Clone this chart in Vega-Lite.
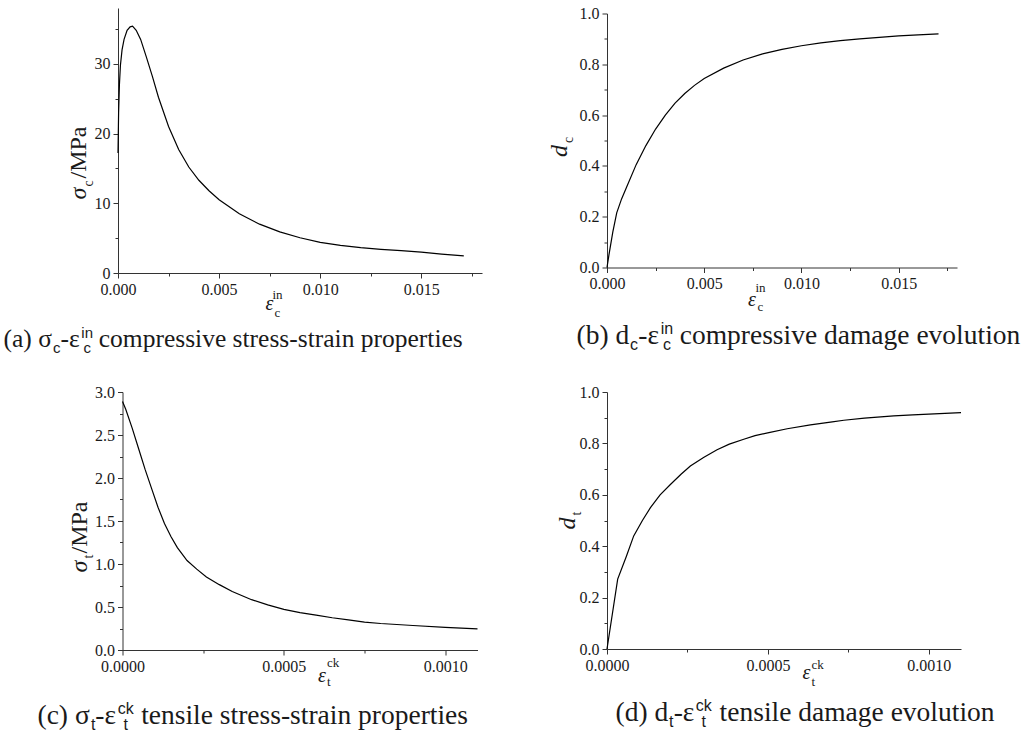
{
  "$schema": "https://vega.github.io/schema/vega-lite/v6.json",
  "background": "white",
  "padding": {"left": 3, "top": 5, "right": 4, "bottom": 4},
  "config": {
    "view": {"stroke": null},
    "font": "Liberation Serif",
    "axis": {"labelFont": "Liberation Serif", "labelFontSize": 16, "labelColor": "#1a1a1a", "titleFont": "Liberation Serif", "titleColor": "#1a1a1a", "titleFontWeight": "normal", "domainColor": "#333", "tickColor": "#333", "grid": false, "labelFlush": false, "labelOverlap": false, "labelPadding": 3, "domainWidth": 1, "tickWidth": 1}
  },
  "datasets": {
    "a": [
      {"x": 0, "y": 17.2}, {"x": 0.00003, "y": 23}, {"x": 0.00007, "y": 27}, {"x": 0.00012, "y": 29.8}, {"x": 0.0002, "y": 32}, {"x": 0.0003, "y": 33.5}, {"x": 0.00045, "y": 34.8}, {"x": 0.0006, "y": 35.3}, {"x": 0.00072, "y": 35.4}, {"x": 0.0009, "y": 34.8}, {"x": 0.00112, "y": 33.5}, {"x": 0.0014, "y": 31}, {"x": 0.0017, "y": 28.2}, {"x": 0.002, "y": 25.2}, {"x": 0.0025, "y": 21}, {"x": 0.003, "y": 17.7}, {"x": 0.0035, "y": 15.2}, {"x": 0.004, "y": 13.3}, {"x": 0.0045, "y": 11.8}, {"x": 0.005, "y": 10.5}, {"x": 0.006, "y": 8.5}, {"x": 0.007, "y": 7.0}, {"x": 0.008, "y": 5.9}, {"x": 0.009, "y": 5.05}, {"x": 0.01, "y": 4.4}, {"x": 0.011, "y": 3.97}, {"x": 0.012, "y": 3.63}, {"x": 0.013, "y": 3.4}, {"x": 0.014, "y": 3.2}, {"x": 0.015, "y": 3.0}, {"x": 0.016, "y": 2.72}, {"x": 0.0171, "y": 2.45}
    ],
    "b": [
      {"x": 0, "y": 0}, {"x": 0.0001, "y": 0.05}, {"x": 0.0003, "y": 0.14}, {"x": 0.0005, "y": 0.215}, {"x": 0.00075, "y": 0.27}, {"x": 0.001, "y": 0.315}, {"x": 0.0015, "y": 0.405}, {"x": 0.002, "y": 0.48}, {"x": 0.0025, "y": 0.545}, {"x": 0.003, "y": 0.6}, {"x": 0.0035, "y": 0.647}, {"x": 0.004, "y": 0.685}, {"x": 0.0045, "y": 0.717}, {"x": 0.005, "y": 0.744}, {"x": 0.006, "y": 0.785}, {"x": 0.007, "y": 0.817}, {"x": 0.008, "y": 0.841}, {"x": 0.009, "y": 0.859}, {"x": 0.01, "y": 0.873}, {"x": 0.011, "y": 0.884}, {"x": 0.012, "y": 0.893}, {"x": 0.013, "y": 0.9}, {"x": 0.014, "y": 0.906}, {"x": 0.015, "y": 0.912}, {"x": 0.016, "y": 0.916}, {"x": 0.01705, "y": 0.92}
    ],
    "c": [
      {"x": 0, "y": 2.89}, {"x": 0.00001, "y": 2.8}, {"x": 0.00003, "y": 2.58}, {"x": 0.00005, "y": 2.34}, {"x": 0.00007, "y": 2.1}, {"x": 0.00009, "y": 1.88}, {"x": 0.00011, "y": 1.66}, {"x": 0.00013, "y": 1.47}, {"x": 0.00015, "y": 1.32}, {"x": 0.00017, "y": 1.19}, {"x": 0.0002, "y": 1.04}, {"x": 0.00023, "y": 0.94}, {"x": 0.00026, "y": 0.85}, {"x": 0.0003, "y": 0.76}, {"x": 0.00034, "y": 0.68}, {"x": 0.0004, "y": 0.585}, {"x": 0.00045, "y": 0.525}, {"x": 0.0005, "y": 0.473}, {"x": 0.00055, "y": 0.435}, {"x": 0.0006, "y": 0.405}, {"x": 0.00065, "y": 0.375}, {"x": 0.0007, "y": 0.35}, {"x": 0.00075, "y": 0.325}, {"x": 0.0008, "y": 0.308}, {"x": 0.0009, "y": 0.285}, {"x": 0.001, "y": 0.262}, {"x": 0.0011, "y": 0.245}
    ],
    "d": [
      {"x": 0, "y": 0}, {"x": 0.0000332, "y": 0.272}, {"x": 0.00006, "y": 0.36}, {"x": 0.000083, "y": 0.44}, {"x": 0.00011, "y": 0.5}, {"x": 0.000135, "y": 0.55}, {"x": 0.000165, "y": 0.6}, {"x": 0.000197, "y": 0.64}, {"x": 0.00023, "y": 0.68}, {"x": 0.000259, "y": 0.712}, {"x": 0.0003, "y": 0.745}, {"x": 0.000342, "y": 0.775}, {"x": 0.00038, "y": 0.797}, {"x": 0.000425, "y": 0.816}, {"x": 0.00046, "y": 0.83}, {"x": 0.000503, "y": 0.842}, {"x": 0.00056, "y": 0.857}, {"x": 0.000632, "y": 0.872}, {"x": 0.0007, "y": 0.884}, {"x": 0.000736, "y": 0.89}, {"x": 0.0008, "y": 0.898}, {"x": 0.000891, "y": 0.907}, {"x": 0.00095, "y": 0.911}, {"x": 0.001, "y": 0.914}, {"x": 0.00105, "y": 0.917}, {"x": 0.0011, "y": 0.92}
    ]
  },
  "columns": 2,
  "bounds": "flush",
  "center": true,
  "spacing": {"row": 119, "column": 125},
  "concat": [
    {
      "width": 364, "height": 265,
      "data": {"name": "a"},
      "layer": [
        {"mark": {"type": "line", "color": "#000", "strokeWidth": 1.2},
         "encoding": {
           "x": {"field": "x", "type": "quantitative", "scale": {"domain": [0, 0.018], "nice": false, "zero": false},
                 "axis": {"orient": "bottom", "values": [0, 0.005, 0.01, 0.015], "format": ".3f", "tickSize": 5, "title": "ε", "titleFontStyle": "italic", "titleFontSize": 20, "titleX": 151, "titleY": 36, "titleAlign": "center", "titleBaseline": "alphabetic", "titleAngle": 0}},
           "y": {"field": "y", "type": "quantitative", "scale": {"domain": [0, 38], "nice": false, "zero": false},
                 "axis": {"orient": "left", "values": [0, 10, 20, 30], "format": "d", "tickSize": 5, "title": "σ", "titleFontStyle": "italic", "titleFontSize": 24, "titleX": -32.5, "titleY": 185, "titleAlign": "center", "titleBaseline": "alphabetic", "titleAngle": -90}}
         }},
        {"mark": {"type": "line", "opacity": 0},
         "encoding": {
           "x": {"field": "x", "type": "quantitative", "scale": {"domain": [0, 0.018], "nice": false, "zero": false},
                 "axis": {"orient": "bottom", "values": [0.0025, 0.0075, 0.0125, 0.0175], "labels": false, "domain": false, "tickSize": 3, "title": ["in", "c"], "titleFontSize": 13, "titleLineHeight": 18, "titleX": 159, "titleY": 25, "titleAlign": "center", "titleBaseline": "alphabetic", "titleAngle": 0}},
           "y": {"field": "y", "type": "quantitative", "scale": {"domain": [0, 38], "nice": false, "zero": false},
                 "axis": {"orient": "left", "values": [5, 15, 25, 35], "labels": false, "domain": false, "tickSize": 3, "title": "/MPa", "titleFontSize": 24, "titleX": -32.5, "titleY": 144, "titleAlign": "center", "titleBaseline": "alphabetic", "titleAngle": -90}}
         }},
        {"mark": {"type": "line", "opacity": 0},
         "encoding": {
           "x": {"field": "x", "type": "quantitative", "scale": {"domain": [0, 0.018], "nice": false, "zero": false},
                 "axis": {"orient": "bottom", "ticks": false, "labels": false, "domain": false, "title": "(a) σ\u2006\u2006-ε\u2002 compressive stress-strain properties", "titleFontSize": 25.5, "titleX": -115, "titleY": 73, "titleAlign": "left", "titleBaseline": "alphabetic", "titleAngle": 0}},
           "y": {"field": "y", "type": "quantitative", "scale": {"domain": [0, 38], "nice": false, "zero": false},
                 "axis": {"orient": "left", "ticks": false, "labels": false, "domain": false, "title": "c", "titleFontSize": 14, "titleX": -25.5, "titleY": 175, "titleAlign": "center", "titleBaseline": "alphabetic", "titleAngle": -90}}
         }},
        {"mark": {"type": "line", "opacity": 0},
         "encoding": {
           "x": {"field": "x", "type": "quantitative", "scale": {"domain": [0, 0.018], "nice": false, "zero": false},
                 "axis": {"orient": "bottom", "ticks": false, "labels": false, "domain": false, "title": "c", "titleFont": "Liberation Sans", "titleFontSize": 15, "titleX": -65.5, "titleY": 79, "titleAlign": "left", "titleBaseline": "alphabetic", "titleAngle": 0}},
           "y": {"field": "y", "type": "quantitative", "scale": {"domain": [0, 38], "nice": false, "zero": false}, "axis": null}
         }},
        {"mark": {"type": "line", "opacity": 0},
         "encoding": {
           "x": {"field": "x", "type": "quantitative", "scale": {"domain": [0, 0.018], "nice": false, "zero": false},
                 "axis": {"orient": "bottom", "ticks": false, "labels": false, "domain": false, "title": ["in", "c"], "titleFont": "Liberation Sans", "titleFontSize": 15, "titleLineHeight": 15, "titleX": -31.3, "titleY": 64, "titleAlign": "center", "titleBaseline": "alphabetic", "titleAngle": 0}},
           "y": {"field": "y", "type": "quantitative", "scale": {"domain": [0, 38], "nice": false, "zero": false}, "axis": null}
         }}
      ],
      "resolve": {"scale": {"x": "independent", "y": "independent"}, "axis": {"x": "independent", "y": "independent"}}
    },
    {
      "width": 350, "height": 254,
      "data": {"name": "b"},
      "layer": [
        {"mark": {"type": "line", "color": "#000", "strokeWidth": 1.2},
         "encoding": {
           "x": {"field": "x", "type": "quantitative", "scale": {"domain": [0, 0.018], "nice": false, "zero": false},
                 "axis": {"orient": "bottom", "values": [0, 0.005, 0.01, 0.015], "format": ".3f", "tickSize": 5, "title": "ε", "titleFontStyle": "italic", "titleFontSize": 20, "titleX": 144.5, "titleY": 38, "titleAlign": "center", "titleBaseline": "alphabetic", "titleAngle": 0}},
           "y": {"field": "y", "type": "quantitative", "scale": {"domain": [0, 1], "nice": false, "zero": false},
                 "axis": {"orient": "left", "values": [0, 0.2, 0.4, 0.6, 0.8, 1.0], "format": ".1f", "tickSize": 5, "title": "d", "titleFontStyle": "italic", "titleFontSize": 24, "titleX": -41, "titleY": 137, "titleAlign": "center", "titleBaseline": "alphabetic", "titleAngle": -90}}
         }},
        {"mark": {"type": "line", "opacity": 0},
         "encoding": {
           "x": {"field": "x", "type": "quantitative", "scale": {"domain": [0, 0.018], "nice": false, "zero": false},
                 "axis": {"orient": "bottom", "values": [0.0025, 0.0075, 0.0125, 0.0175], "labels": false, "domain": false, "tickSize": 3, "title": ["in", "c"], "titleFontSize": 13, "titleLineHeight": 19, "titleX": 153, "titleY": 24, "titleAlign": "center", "titleBaseline": "alphabetic", "titleAngle": 0}},
           "y": {"field": "y", "type": "quantitative", "scale": {"domain": [0, 1], "nice": false, "zero": false},
                 "axis": {"orient": "left", "values": [0.1, 0.3, 0.5, 0.7, 0.9], "labels": false, "domain": false, "tickSize": 3, "title": "c", "titleFontSize": 14, "titleX": -35, "titleY": 126, "titleAlign": "center", "titleBaseline": "alphabetic", "titleAngle": -90}}
         }},
        {"mark": {"type": "line", "opacity": 0},
         "encoding": {
           "x": {"field": "x", "type": "quantitative", "scale": {"domain": [0, 0.018], "nice": false, "zero": false},
                 "axis": {"orient": "bottom", "ticks": false, "labels": false, "domain": false, "title": "(b) d\u2006\u2006-ε\u2002 compressive damage evolution", "titleFontSize": 27.5, "titleX": -31, "titleY": 76, "titleAlign": "left", "titleBaseline": "alphabetic", "titleAngle": 0}},
           "y": {"field": "y", "type": "quantitative", "scale": {"domain": [0, 1], "nice": false, "zero": false}, "axis": null}
         }},
        {"mark": {"type": "line", "opacity": 0},
         "encoding": {
           "x": {"field": "x", "type": "quantitative", "scale": {"domain": [0, 0.018], "nice": false, "zero": false},
                 "axis": {"orient": "bottom", "ticks": false, "labels": false, "domain": false, "title": "c", "titleFont": "Liberation Sans", "titleFontSize": 16, "titleX": 22.6, "titleY": 82, "titleAlign": "left", "titleBaseline": "alphabetic", "titleAngle": 0}},
           "y": {"field": "y", "type": "quantitative", "scale": {"domain": [0, 1], "nice": false, "zero": false}, "axis": null}
         }},
        {"mark": {"type": "line", "opacity": 0},
         "encoding": {
           "x": {"field": "x", "type": "quantitative", "scale": {"domain": [0, 0.018], "nice": false, "zero": false},
                 "axis": {"orient": "bottom", "ticks": false, "labels": false, "domain": false, "title": ["in", "c"], "titleFont": "Liberation Sans", "titleFontSize": 16, "titleLineHeight": 16, "titleX": 59.4, "titleY": 66, "titleAlign": "center", "titleBaseline": "alphabetic", "titleAngle": 0}},
           "y": {"field": "y", "type": "quantitative", "scale": {"domain": [0, 1], "nice": false, "zero": false}, "axis": null}
         }}
      ],
      "resolve": {"scale": {"x": "independent", "y": "independent"}, "axis": {"x": "independent", "y": "independent"}}
    },
    {
      "width": 355, "height": 258,
      "data": {"name": "c"},
      "layer": [
        {"mark": {"type": "line", "color": "#000", "strokeWidth": 1.2},
         "encoding": {
           "x": {"field": "x", "type": "quantitative", "scale": {"domain": [0, 0.0011], "nice": false, "zero": false},
                 "axis": {"orient": "bottom", "values": [0, 0.0005, 0.001], "format": ".4f", "tickSize": 5, "title": "ε", "titleFontStyle": "italic", "titleFontSize": 20, "titleX": 199, "titleY": 31, "titleAlign": "center", "titleBaseline": "alphabetic", "titleAngle": 0}},
           "y": {"field": "y", "type": "quantitative", "scale": {"domain": [0, 3], "nice": false, "zero": false},
                 "axis": {"orient": "left", "values": [0, 0.5, 1, 1.5, 2, 2.5, 3], "format": ".1f", "tickSize": 5, "title": "σ", "titleFontStyle": "italic", "titleFontSize": 24, "titleX": -36, "titleY": 174, "titleAlign": "center", "titleBaseline": "alphabetic", "titleAngle": -90}}
         }},
        {"mark": {"type": "line", "opacity": 0},
         "encoding": {
           "x": {"field": "x", "type": "quantitative", "scale": {"domain": [0, 0.0011], "nice": false, "zero": false},
                 "axis": {"orient": "bottom", "values": [0.00025, 0.00075], "labels": false, "domain": false, "tickSize": 3, "title": ["ck", "t"], "titleFontSize": 13, "titleLineHeight": 19, "titleX": 204, "titleY": 16, "titleAlign": "left", "titleBaseline": "alphabetic", "titleAngle": 0}},
           "y": {"field": "y", "type": "quantitative", "scale": {"domain": [0, 3], "nice": false, "zero": false},
                 "axis": {"orient": "left", "values": [0.25, 0.75, 1.25, 1.75, 2.25, 2.75], "labels": false, "domain": false, "tickSize": 3, "title": "/MPa", "titleFontSize": 24, "titleX": -36, "titleY": 135, "titleAlign": "center", "titleBaseline": "alphabetic", "titleAngle": -90}}
         }},
        {"mark": {"type": "line", "opacity": 0},
         "encoding": {
           "x": {"field": "x", "type": "quantitative", "scale": {"domain": [0, 0.0011], "nice": false, "zero": false},
                 "axis": {"orient": "bottom", "ticks": false, "labels": false, "domain": false, "title": "(c) σ\u2009-ε\u2002\u2006 tensile stress-strain properties", "titleFontSize": 27.5, "titleX": -85.5, "titleY": 73, "titleAlign": "left", "titleBaseline": "alphabetic", "titleAngle": 0}},
           "y": {"field": "y", "type": "quantitative", "scale": {"domain": [0, 3], "nice": false, "zero": false},
                 "axis": {"orient": "left", "ticks": false, "labels": false, "domain": false, "title": "t", "titleFontSize": 14, "titleX": -30, "titleY": 164, "titleAlign": "center", "titleBaseline": "alphabetic", "titleAngle": -90}}
         }},
        {"mark": {"type": "line", "opacity": 0},
         "encoding": {
           "x": {"field": "x", "type": "quantitative", "scale": {"domain": [0, 0.0011], "nice": false, "zero": false},
                 "axis": {"orient": "bottom", "ticks": false, "labels": false, "domain": false, "title": "t", "titleFont": "Liberation Sans", "titleFontSize": 16, "titleX": -32.1, "titleY": 79, "titleAlign": "left", "titleBaseline": "alphabetic", "titleAngle": 0}},
           "y": {"field": "y", "type": "quantitative", "scale": {"domain": [0, 3], "nice": false, "zero": false}, "axis": null}
         }},
        {"mark": {"type": "line", "opacity": 0},
         "encoding": {
           "x": {"field": "x", "type": "quantitative", "scale": {"domain": [0, 0.0011], "nice": false, "zero": false},
                 "axis": {"orient": "bottom", "ticks": false, "labels": false, "domain": false, "title": ["ck", "t"], "titleFont": "Liberation Sans", "titleFontSize": 16, "titleLineHeight": 16, "titleX": 2.8, "titleY": 63, "titleAlign": "center", "titleBaseline": "alphabetic", "titleAngle": 0}},
           "y": {"field": "y", "type": "quantitative", "scale": {"domain": [0, 3], "nice": false, "zero": false}, "axis": null}
         }}
      ],
      "resolve": {"scale": {"x": "independent", "y": "independent"}, "axis": {"x": "independent", "y": "independent"}}
    },
    {
      "width": 354, "height": 257,
      "data": {"name": "d"},
      "layer": [
        {"mark": {"type": "line", "color": "#000", "strokeWidth": 1.2},
         "encoding": {
           "x": {"field": "x", "type": "quantitative", "scale": {"domain": [0, 0.0011], "nice": false, "zero": false},
                 "axis": {"orient": "bottom", "values": [0, 0.0005, 0.001], "format": ".4f", "tickSize": 5, "title": "ε", "titleFontStyle": "italic", "titleFontSize": 20, "titleX": 199, "titleY": 29, "titleAlign": "center", "titleBaseline": "alphabetic", "titleAngle": 0}},
           "y": {"field": "y", "type": "quantitative", "scale": {"domain": [0, 1], "nice": false, "zero": false},
                 "axis": {"orient": "left", "values": [0, 0.2, 0.4, 0.6, 0.8, 1.0], "format": ".1f", "tickSize": 5, "title": "d", "titleFontStyle": "italic", "titleFontSize": 24, "titleX": -33, "titleY": 131, "titleAlign": "center", "titleBaseline": "alphabetic", "titleAngle": -90}}
         }},
        {"mark": {"type": "line", "opacity": 0},
         "encoding": {
           "x": {"field": "x", "type": "quantitative", "scale": {"domain": [0, 0.0011], "nice": false, "zero": false},
                 "axis": {"orient": "bottom", "values": [0.00025, 0.00075], "labels": false, "domain": false, "tickSize": 3, "title": ["ck", "t"], "titleFontSize": 13, "titleLineHeight": 17, "titleX": 204, "titleY": 19, "titleAlign": "left", "titleBaseline": "alphabetic", "titleAngle": 0}},
           "y": {"field": "y", "type": "quantitative", "scale": {"domain": [0, 1], "nice": false, "zero": false},
                 "axis": {"orient": "left", "values": [0.1, 0.3, 0.5, 0.7, 0.9], "labels": false, "domain": false, "tickSize": 3, "title": "t", "titleFontSize": 14, "titleX": -27, "titleY": 121, "titleAlign": "center", "titleBaseline": "alphabetic", "titleAngle": -90}}
         }},
        {"mark": {"type": "line", "opacity": 0},
         "encoding": {
           "x": {"field": "x", "type": "quantitative", "scale": {"domain": [0, 0.0011], "nice": false, "zero": false},
                 "axis": {"orient": "bottom", "ticks": false, "labels": false, "domain": false, "title": "(d) d\u2009-ε\u2002\u2006 tensile damage evolution", "titleFontSize": 27.5, "titleX": 8, "titleY": 71.5, "titleAlign": "left", "titleBaseline": "alphabetic", "titleAngle": 0}},
           "y": {"field": "y", "type": "quantitative", "scale": {"domain": [0, 1], "nice": false, "zero": false}, "axis": null}
         }},
        {"mark": {"type": "line", "opacity": 0},
         "encoding": {
           "x": {"field": "x", "type": "quantitative", "scale": {"domain": [0, 0.0011], "nice": false, "zero": false},
                 "axis": {"orient": "bottom", "ticks": false, "labels": false, "domain": false, "title": "t", "titleFont": "Liberation Sans", "titleFontSize": 16, "titleX": 61.6, "titleY": 77.5, "titleAlign": "left", "titleBaseline": "alphabetic", "titleAngle": 0}},
           "y": {"field": "y", "type": "quantitative", "scale": {"domain": [0, 1], "nice": false, "zero": false}, "axis": null}
         }},
        {"mark": {"type": "line", "opacity": 0},
         "encoding": {
           "x": {"field": "x", "type": "quantitative", "scale": {"domain": [0, 0.0011], "nice": false, "zero": false},
                 "axis": {"orient": "bottom", "ticks": false, "labels": false, "domain": false, "title": ["ck", "t"], "titleFont": "Liberation Sans", "titleFontSize": 16, "titleLineHeight": 16, "titleX": 96.3, "titleY": 61.5, "titleAlign": "center", "titleBaseline": "alphabetic", "titleAngle": 0}},
           "y": {"field": "y", "type": "quantitative", "scale": {"domain": [0, 1], "nice": false, "zero": false}, "axis": null}
         }}
      ],
      "resolve": {"scale": {"x": "independent", "y": "independent"}, "axis": {"x": "independent", "y": "independent"}}
    }
  ]
}
